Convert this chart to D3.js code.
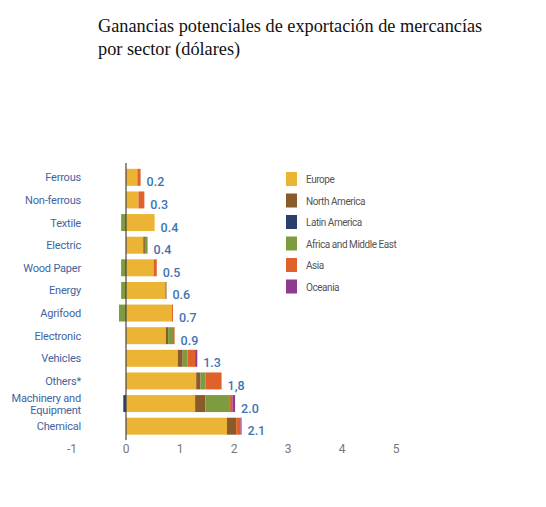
<!DOCTYPE html>
<html lang="es">
    <head>
        <meta charset="utf-8">
        <title>Ganancias potenciales de exportación</title>
        <script type="text/javascript" src="https://cdn.jsdelivr.net/npm/d3@7/dist/d3.min.js"></script>
        <style type="text/css">
          body { margin: 0; background: #fff; }
          .cat { font-family: Roboto, sans-serif; font-size: 11px; fill: #41649f; letter-spacing: -0.2px; }
          .val { font-family: Roboto, sans-serif; font-size: 12.5px; fill: #3f74b3; font-weight: 500; }
          .tick-label { font-family: Roboto, sans-serif; font-size: 12px; fill: #777; }
          .leg { font-family: Roboto, sans-serif; font-size: 10px; fill: #555; letter-spacing: -0.45px; }
          .title { font-family: 'Liberation Serif', 'Times New Roman', serif; font-size: 18.3px; fill: #111; }
        </style>
    </head>
    <body>
        <script type="text/javascript">

          var sectors = ["Ferrous", "Non-ferrous", "Textile", "Electric", "Wood Paper", "Energy",
                         "Agrifood", "Electronic", "Vehicles", "Others*", "Machinery and Equipment", "Chemical"];
          var regions = ["Europe", "North America", "Latin America", "Africa and Middle East", "Asia", "Oceania"];
          var colors = ["#ebb434", "#8b5a2b", "#2c3e6b", "#7d9b3f", "#e0622b", "#8e3a90"];

          var europe       = [0.21, 0.23, 0.53, 0.32, 0.51, 0.73, 0.85, 0.74, 0.96, 1.30, 1.28, 1.87];
          var northAmerica = [0.00, 0.00, 0.00, 0.03, 0.00, 0.02, 0.00, 0.04, 0.09, 0.08, 0.19, 0.17];
          var latinAmerica = [0.00, 0.00, 0.00, 0.00, 0.00, 0.00, 0.00, 0.00, 0.00, 0.00, -0.05, 0.00];
          var africaME     = [0.00, 0.00, -0.09, 0.05, -0.09, -0.09, -0.13, 0.09, 0.09, 0.09, 0.44, 0.00];
          var asia         = [0.06, 0.11, 0.00, 0.00, 0.06, 0.00, 0.02, 0.03, 0.14, 0.30, 0.06, 0.08];
          var oceania      = [0.00, 0.00, 0.00, 0.00, 0.00, 0.00, 0.00, 0.00, 0.04, 0.00, 0.05, 0.02];

          var totals = ["0.2", "0.3", "0.4", "0.4", "0.5", "0.6", "0.7", "0.9", "1.3", "1,8", "2.0", "2.1"];
          var ticks = [-1, 0, 1, 2, 3, 4, 5];

          var w = 546;
          var h = 507;

          var svg = d3.select("body")
                      .append("svg")
                      .attr("width", w)
                      .attr("height", h);

          var series = [europe, northAmerica, latinAmerica, africaME, asia, oceania];
          var rows = sectors.map(function(s, i) {
            var r = {sector: s};
            regions.forEach(function(g, j) { r[g] = series[j][i]; });
            return r;
          });

          var stacked = d3.stack()
                          .keys(regions)
                          .offset(d3.stackOffsetDiverging)(rows);

          var xScale = d3.scaleLinear()
                         .domain([-1, 5])
                         .range([72, 396]);

          var yScale = d3.scaleBand()
                         .domain(sectors)
                         .range([166, 437.5])
                         .paddingInner(0.25)
                         .paddingOuter(0.125);

          // title
          svg.append("text")
             .attr("class", "title")
             .attr("x", 98)
             .attr("y", 32)
             .text("Ganancias potenciales de exportación de mercancías");

          svg.append("text")
             .attr("class", "title")
             .attr("x", 98)
             .attr("y", 55)
             .text("por sector (dólares)");

          // bars
          svg.selectAll("g.layer")
             .data(stacked)
             .enter()
             .append("g")
             .attr("class", "layer")
             .style("fill", function(d, i) { return colors[i]; })
             .selectAll("rect")
             .data(function(d) { return d; })
             .enter()
             .append("rect")
             .attr("x", function(d) { return xScale(Math.min(d[0], d[1])); })
             .attr("y", function(d) { return yScale(d.data.sector); })
             .attr("width", function(d) { return Math.abs(xScale(d[1]) - xScale(d[0])); })
             .attr("height", yScale.bandwidth());

          // zero line
          svg.append("line")
             .attr("x1", xScale(0))
             .attr("x2", xScale(0))
             .attr("y1", 163)
             .attr("y2", 440)
             .style("stroke", "#444")
             .style("stroke-width", 1.2);

          // category labels
          svg.selectAll("text.cat")
             .data(sectors)
             .enter()
             .append("text")
             .attr("class", "cat")
             .attr("text-anchor", "end")
             .attr("x", 81)
             .attr("y", function(d) { return yScale(d) + yScale.bandwidth() / 2 + 4; })
             .each(function(d) {
               var t = d3.select(this);
               if (d === "Machinery and Equipment") {
                 var y0 = yScale(d) + yScale.bandwidth() / 2;
                 t.append("tspan").attr("x", 81).attr("y", y0 - 2).text("Machinery and");
                 t.append("tspan").attr("x", 81).attr("y", y0 + 10).text("Equipment");
               } else {
                 t.text(d);
               }
             });

          // value labels
          var posEnd = rows.map(function(r) {
            return d3.sum(regions, function(g) { return Math.max(0, r[g]); });
          });

          svg.selectAll("text.val")
             .data(totals)
             .enter()
             .append("text")
             .attr("class", "val")
             .attr("x", function(d, i) { return xScale(posEnd[i]) + 6; })
             .attr("y", function(d, i) { return yScale(sectors[i]) + yScale.bandwidth() / 2 + 9; })
             .text(function(d) { return d; });

          // x tick labels
          svg.selectAll("text.tick-label")
             .data(ticks)
             .enter()
             .append("text")
             .attr("class", "tick-label")
             .attr("text-anchor", "middle")
             .attr("x", function(d) { return xScale(d); })
             .attr("y", 453)
             .text(function(d) { return d; });

          // legend
          var legend = svg.selectAll("g.legend")
                          .data(regions)
                          .enter()
                          .append("g")
                          .attr("class", "legend")
                          .attr("transform", function(d, i) { return "translate(286," + (172 + i * 21.5) + ")"; });

          legend.append("rect")
                .attr("width", 11)
                .attr("height", 14)
                .style("fill", function(d, i) { return colors[i]; });

          legend.append("text")
                .attr("class", "leg")
                .attr("x", 20)
                .attr("y", 11)
                .text(function(d) { return d; });

        </script>
    </body>
</html>
